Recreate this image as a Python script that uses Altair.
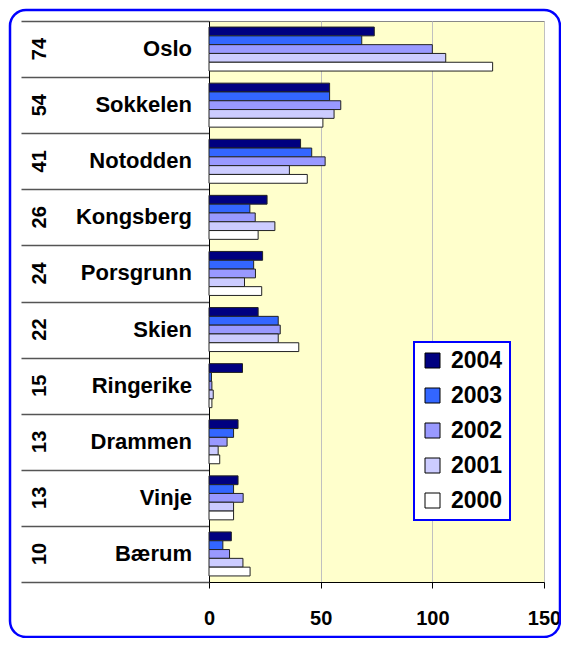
import altair as alt
import pandas as pd

cities = ["Oslo", "Sokkelen", "Notodden", "Kongsberg", "Porsgrunn",
          "Skien", "Ringerike", "Drammen", "Vinje", "Bærum"]
rank_labels = ["74", "54", "41", "26", "24", "22", "15", "13", "13", "10"]
years = ["2004", "2003", "2002", "2001", "2000"]
v2004 = [74, 54, 41, 26, 24, 22, 15, 13, 13, 10]
v2003 = [68.4, 54, 46, 18.3, 20, 31, 1.1, 11, 11, 6.2]
v2002 = [100, 59, 52, 20.7, 20.8, 31.9, 1.3, 8.1, 15.3, 9.2]
v2001 = [106, 56, 36, 29.5, 15.9, 31, 1.9, 4.1, 11, 15.2]
v2000 = [127, 51, 44, 22, 23.6, 40.2, 1.3, 4.8, 11, 18.4]
colors = ["#000080", "#3366FF", "#9999FF", "#CCCCFF", "#FFFFFF"]

series = {"2004": v2004, "2003": v2003, "2002": v2002, "2001": v2001, "2000": v2000}
rows = []
for yr in years:
    for c, v in zip(cities, series[yr]):
        rows.append({"city": c, "year": yr, "value": v})
df = pd.DataFrame(rows)
lab = pd.DataFrame({"city": cities, "num": rank_labels})

FONT = "Liberation Sans"

ydef = alt.Y("city:N", sort=cities, title=None,
             scale=alt.Scale(paddingInner=0, paddingOuter=0),
             axis=alt.Axis(labels=False, title=None, tickBand="extent",
                           tickSize=188, tickColor="#555555", tickWidth=1.5,
                           domainColor="black", domainWidth=1))

frame = alt.Chart(pd.DataFrame({"a": [0]})).mark_rect(
    filled=False, stroke="#0000FF", strokeWidth=2.5, cornerRadius=16
).encode(x=alt.value(-199), x2=alt.value(351), y=alt.value(-11), y2=alt.value(616))

bars = alt.Chart(df).mark_bar(stroke="#222222", strokeWidth=1).encode(
    x=alt.X("value:Q", scale=alt.Scale(domain=[0, 150]), title=None,
            axis=alt.Axis(values=[0, 50, 100, 150], grid=True, gridColor="#C0C0C0",
                          domainColor="black", tickColor="black", tickSize=6,
                          labelFontSize=20, labelFontWeight="bold", labelColor="black",
                          labelPadding=20, labelFlush=False, labelFont=FONT)),
    y=ydef,
    yOffset=alt.YOffset("year:N", sort=years,
                        scale=alt.Scale(paddingInner=0, paddingOuter=0.6875)),
    fill=alt.Fill("year:N", sort=years,
                  scale=alt.Scale(domain=years, range=colors),
                  legend=alt.Legend(title=None, orient="none", legendX=205, legendY=321,
                                    fillColor="white", strokeColor="#0000FF",
                                    padding=7, rowPadding=11, symbolType="square",
                                    symbolSize=225, symbolStrokeColor="black",
                                    symbolStrokeWidth=1, labelFontSize=23,
                                    labelFontWeight="bold", labelColor="black",
                                    labelFont=FONT, labelOffset=7)),
)

nums = alt.Chart(lab).mark_text(
    angle=270, fontSize=20, fontWeight="bold", font=FONT, color="black",
    align="center", baseline="middle"
).encode(x=alt.value(-169), y=ydef, text="num:N")

names = alt.Chart(lab).mark_text(
    fontSize=22, fontWeight="bold", font=FONT, color="black",
    align="right", baseline="middle"
).encode(x=alt.value(-17), y=ydef, text="city:N")

chart = alt.layer(frame, bars, nums, names).properties(
    width=335, height=561,
    padding={"left": 201, "top": 13, "right": 17, "bottom": 56},
    autosize=alt.AutoSizeParams(type="none"),
    background="white",
).configure(font=FONT).configure_view(
    fill="#FFFFCC", stroke="#888888", strokeWidth=1
).configure_legend(strokeWidth=2)

chart.save("out.html", embed_options={"renderer": "svg", "actions": False})
